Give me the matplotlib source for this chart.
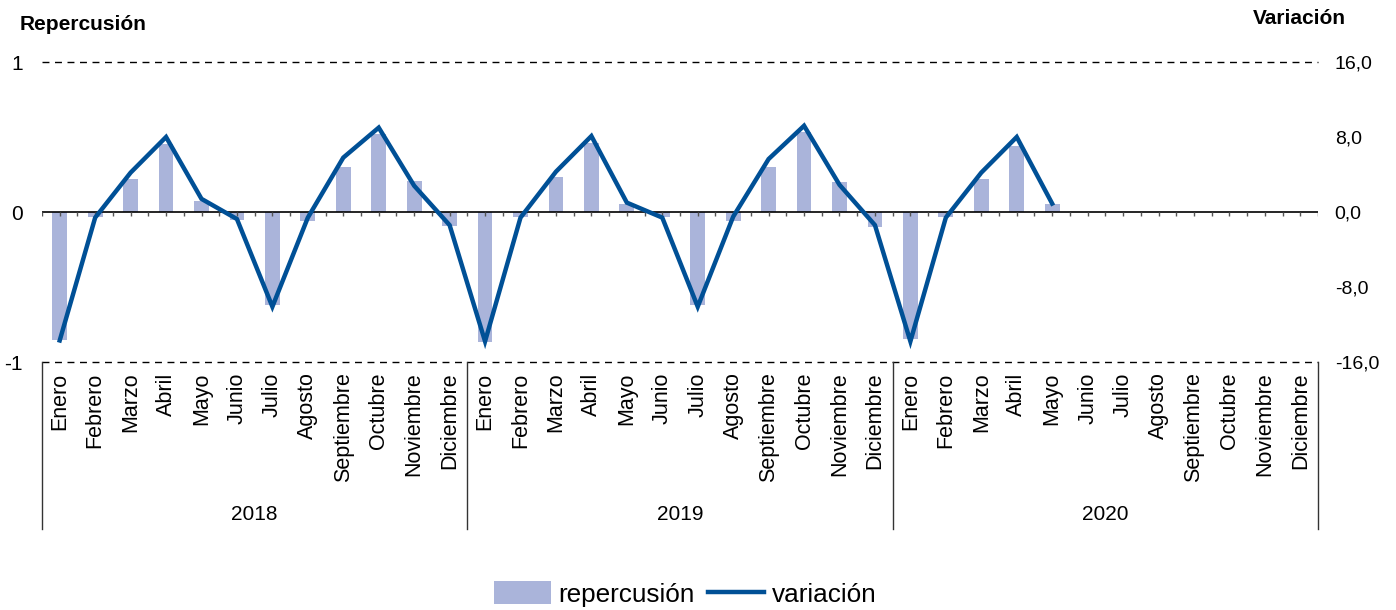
import matplotlib
matplotlib.use("Agg")
import matplotlib.pyplot as plt
from matplotlib.lines import Line2D
from matplotlib.patches import Patch

plt.rcParams['font.family'] = ['Liberation Sans', 'DejaVu Sans']

months = ["Enero", "Febrero", "Marzo", "Abril", "Mayo", "Junio", "Julio",
          "Agosto", "Septiembre", "Octubre", "Noviembre", "Diciembre"]
years = ["2018", "2019", "2020"]

repercusion_2018 = [-0.856, -0.036, 0.222, 0.453, 0.076, -0.051, -0.618, -0.058, 0.302, 0.520, 0.209, -0.096]
repercusion_2019 = [-0.869, -0.036, 0.231, 0.460, 0.056, -0.036, -0.618, -0.058, 0.302, 0.533, 0.202, -0.102]
repercusion_2020 = [-0.844, -0.036, 0.222, 0.438, 0.056]

variacion_2018 = [-13.7, -0.6, 4.2, 8.0, 1.4, -0.75, -10.1, -0.6, 5.8, 9.0, 2.8, -1.4]
variacion_2019 = [-13.8, -0.6, 4.3, 8.1, 1.0, -0.6, -10.1, -0.5, 5.65, 9.2, 2.9, -1.4]
variacion_2020 = [-13.8, -0.6, 4.2, 8.0, 0.9]

rep = repercusion_2018 + repercusion_2019 + repercusion_2020
var = variacion_2018 + variacion_2019 + variacion_2020
n_total = len(months) * len(years)

BAR = "#aab4da"
LINE = "#005096"

W, H = 1396, 610
fig = plt.figure(figsize=(W / 100, H / 100), dpi=100)
x0, x1, ytop, ybot = 42, 1318, 62, 362
ax = fig.add_axes([x0 / W, (H - ybot) / H, (x1 - x0) / W, (ybot - ytop) / H])
ax2 = ax.twinx()

ax.bar(range(len(rep)), rep, width=0.42, color=BAR, zorder=2)
ax2.plot(range(len(var)), var, color=LINE, lw=3.2, zorder=3, solid_joinstyle='miter')

ax.set_xlim(-0.5, n_total - 0.5)
ax.set_ylim(-1, 1)
ax2.set_ylim(-16, 16)

for a in (ax, ax2):
    for s in a.spines.values():
        s.set_visible(False)
ax2.patch.set_visible(False)

ax.set_yticks([-1, 0, 1])
ax.set_yticklabels(["-1", "0", "1"], fontsize=15)
ax.tick_params(axis='y', length=0, pad=14)
ax2.set_yticks([-16, -8, 0, 8, 16])
ax2.set_yticklabels(["-16,0", "-8,0", "0,0", "8,0", "16,0"], fontsize=14)
ax2.tick_params(axis='y', length=0, pad=12)
ax.set_xticks([])

# dashed lines at 1 and -1
for yv in (1, -1):
    ax.axhline(yv, color='black', lw=1, ls=(0, (5, 4)), zorder=1, clip_on=False)
# zero line with small ticks
ax.axhline(0, color='black', lw=1.2, zorder=4)
ticks_x = [k * 0.5 - 0.5 for k in range(2 * n_total + 1)]
ax.vlines(ticks_x, -0.028, 0, color='#555555', lw=1, zorder=4)

# category labels
xt = ax.get_xaxis_transform()
for i in range(n_total):
    ax.text(i, -0.035, months[i % 12], rotation=90, ha='center', va='top',
            fontsize=15.5, transform=xt)
for j, yr in enumerate(years):
    ax.text(j * 12 + 5.5, -0.51, yr, ha='center', va='center', fontsize=15, transform=xt)
for b in [-0.5, 11.5, 23.5, 35.5]:
    ax.plot([b, b], [0, -0.555], color='#333333', lw=1, transform=xt, clip_on=False)

fig.text(20 / W, 1 - 25 / H, "Repercusión", fontsize=15, fontweight='bold', ha='left', va='center')
fig.text(1346 / W, 1 - 18 / H, "Variación", fontsize=15, fontweight='bold', ha='right', va='center')

handles = [Patch(facecolor=BAR, edgecolor='none'), Line2D([0], [0], color=LINE, lw=3.2)]
fig.legend(handles, ["repercusión", "variación"], loc='center', bbox_to_anchor=(0.491, 1 - 594 / H),
           ncol=2, frameon=False, fontsize=18.8, handlelength=2.15, handletextpad=0.3,
           columnspacing=0.5, handleheight=0.95)

fig.savefig("out.png", dpi=100)
